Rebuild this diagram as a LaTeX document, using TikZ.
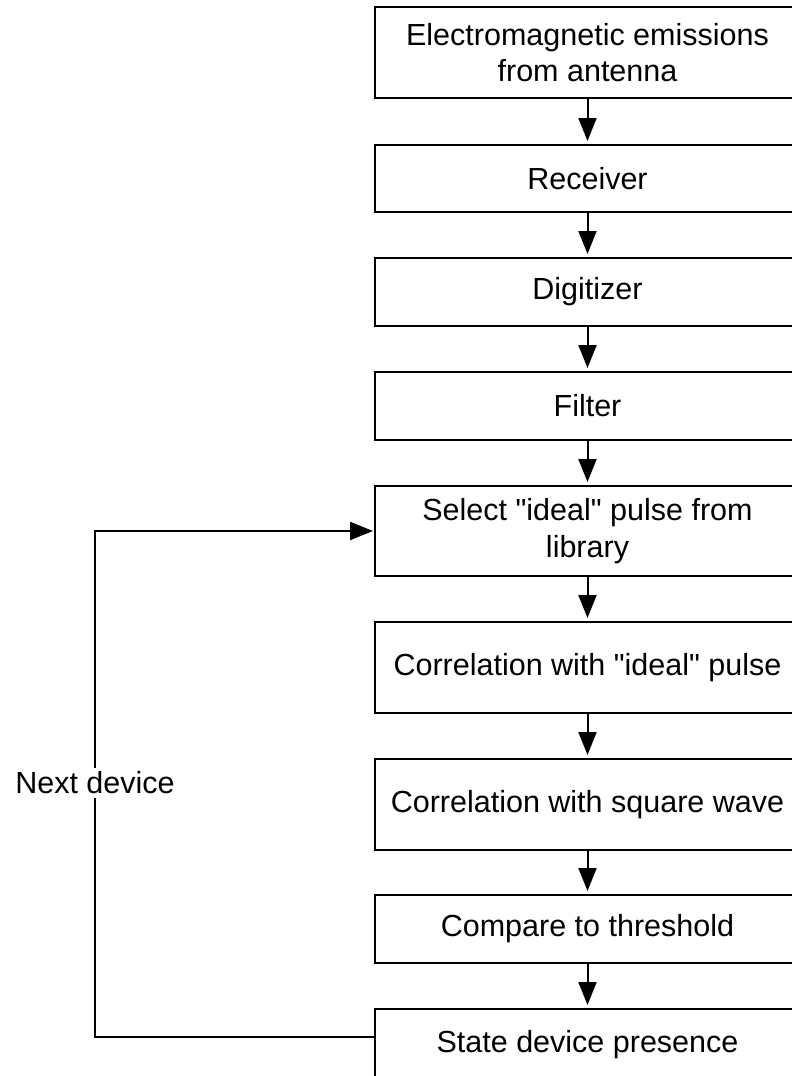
\documentclass[tikz,border=0pt]{standalone}
\usepackage{fontspec}
\setmainfont{Liberation Sans}
\newfontfamily\lsans{Liberation Sans}
\usetikzlibrary{arrows.meta}
\begin{document}
\begin{tikzpicture}[x=1pt,y=-1pt,
  box/.style={draw=black, line width=2pt, fill=white, minimum width=425pt, inner sep=0pt,
    align=center, font=\lsans\fontsize{30.5}{36.6}\selectfont},
  arr/.style={line width=2pt, -{Triangle[length=23pt,width=18pt]}, shorten >=3pt},
  lbl/.style={fill=white, inner sep=4pt, font=\lsans\fontsize{30.5}{36.6}\selectfont}]
\useasboundingbox (0,0) rectangle (792,1076);
\clip (0,0) rectangle (792,1076);
\node[box, minimum height=91pt] (b1) at (587.5,52.5) {Electromagnetic emissions\\from antenna};
\node[box, minimum height=67pt] (b2) at (587.5,178.5) {Receiver};
\node[box, minimum height=68pt] (b3) at (587.5,292) {Digitizer};
\node[box, minimum height=68pt] (b4) at (587.5,406) {Filter};
\node[box, minimum height=90pt] (b5) at (587.5,531) {Select "ideal" pulse from\\library};
\node[box, minimum height=91pt] (b6) at (587.5,667.5) {Correlation with "ideal" pulse};
\node[box, minimum height=91pt] (b7) at (587.5,804.5) {Correlation with square wave};
\node[box, minimum height=68pt] (b8) at (587.5,929) {Compare to threshold};
\node[box, minimum height=71pt] (b9) at (587.5,1044.5) {State device presence};
\node[lbl] (nd) at (95,783) {Next device};
\draw[arr] (b1) -- (b2);
\draw[arr] (b2) -- (b3);
\draw[arr] (b3) -- (b4);
\draw[arr] (b4) -- (b5);
\draw[arr] (b5) -- (b6);
\draw[arr] (b6) -- (b7);
\draw[arr] (b7) -- (b8);
\draw[arr] (b8) -- (b9);
\draw[line width=2pt] ([yshift=7.5pt]b9.west) -| (nd.south);
\draw[arr, shorten >=1pt] (nd.north) |- (b5.west);
\end{tikzpicture}
\end{document}
